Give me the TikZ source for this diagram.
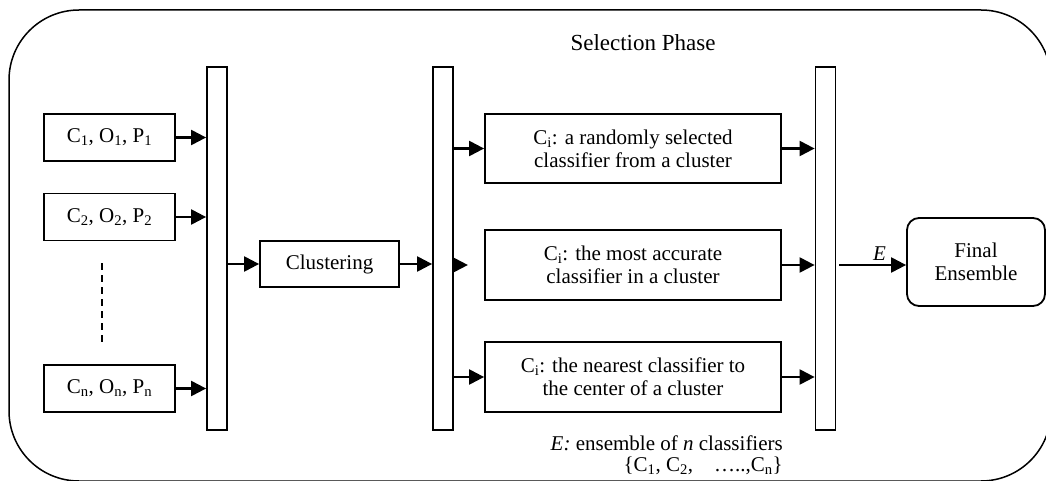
\documentclass[tikz,border=0pt]{standalone}
\usepackage{fontspec}
\setmainfont{Liberation Serif}
\usepackage{tikz}
\usetikzlibrary{arrows.meta, positioning, calc}

\begin{document}
\begin{tikzpicture}[
    x=1pt, y=-1pt,
    box/.style={draw, line width=1.8pt, minimum width=#1, inner sep=2pt,
                font=\fontsize{21}{23}\selectfont, align=center},
    bar/.style={draw, line width=1.8pt, minimum width=20pt, minimum height=363pt, inner sep=0pt},
    flow/.style={line width=2.2pt, -{Triangle[length=15pt, width=15pt]}},
]
    \useasboundingbox (0,0) rectangle (1046,481);
    % outer frame
    \draw[line width=1.5pt, rounded corners=70pt] (9,10) rectangle (1051,481);
    \node[font=\fontsize{23}{25}\selectfont] (title) at (643,43) {Selection Phase};

    % classifiers and their outputs
    \node[box=131pt, minimum height=47pt] (in1) at (109.5,137.5) {C\textsubscript{1}, O\textsubscript{1}, P\textsubscript{1}};
    \node[box=131pt, minimum height=47pt] (in2) at (109.5,217) {C\textsubscript{2}, O\textsubscript{2}, P\textsubscript{2}};
    \node[box=131pt, minimum height=47pt] (inn) at (109.5,388.5) {C\textsubscript{n}, O\textsubscript{n}, P\textsubscript{n}};
    \coordinate (dtop) at (102,263);
    \coordinate (dbot) at (102,342);
    \draw[line width=1.8pt, dash pattern=on 7pt off 5pt] (dtop) -- (dbot);

    % collecting bars
    \node[bar] (bar1) at (217,248.5) {};
    \node[bar] (bar2) at (443,248.5) {};
    \node[bar] (bar3) at (825.5,248.5) {};

    \node[box=139pt, minimum height=46pt] (clust) at (329.5,264) {Clustering};

    % selection strategies
    \node[box=296pt, minimum height=69pt] (sel1) at (633,148.5) {C\textsubscript{i}: a randomly selected\\classifier from a cluster};
    \node[box=296pt, minimum height=70pt] (sel2) at (633,265) {C\textsubscript{i}: the most accurate\\classifier in a cluster};
    \node[box=296pt, minimum height=70pt] (sel3) at (633,377) {C\textsubscript{i}: the nearest classifier to\\the center of a cluster};

    \node[box=138pt, minimum height=88pt, rounded corners=12pt] (final) at (976,262) {Final\\Ensemble};

    % arrows
    \draw[flow] (in1.east) -- (in1.east -| bar1.west);
    \draw[flow] (in2.east) -- (in2.east -| bar1.west);
    \draw[flow] (inn.east) -- (inn.east -| bar1.west);
    \draw[flow] (bar1.east |- clust.west) -- (clust.west);
    \draw[flow] (clust.east) -- (clust.east -| bar2.west);
    \coordinate (midtip) at ($(bar2.east |- sel2.west)+(14,0)$);
    \draw[flow] (bar2.east |- sel2.west) -- (midtip);
    \draw[flow] (bar2.east |- sel1.west) -- (sel1.west);
    \draw[flow] (bar2.east |- sel3.west) -- (sel3.west);
    \draw[flow] (sel1.east) -- (sel1.east -| bar3.west);
    \draw[flow] (sel2.east) -- (sel2.east -| bar3.west);
    \draw[flow] (sel3.east) -- (sel3.east -| bar3.west);
    \draw[flow, shorten <=3pt] (bar3.east |- sel2.east) -- node[pos=0.62, above, font=\fontsize{21}{23}\selectfont\itshape] {E} (final.west |- sel2.east);

    \node[anchor=east, align=right, font=\fontsize{21}{21}\selectfont, inner sep=0pt] (note) at (783,455)
        {\textit{E:} ensemble of \textit{n} classifiers\\\{C\textsubscript{1}, C\textsubscript{2},\quad\ldots..,C\textsubscript{n}\}};
\end{tikzpicture}
\end{document}
